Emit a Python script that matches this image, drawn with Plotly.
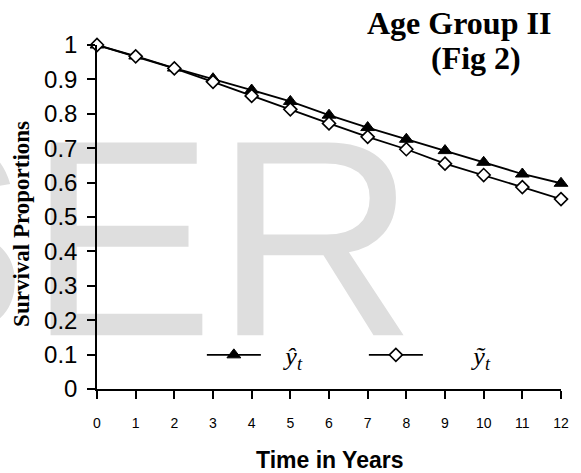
import plotly.graph_objects as go

years = list(range(13))
tick_labels = [str(t) for t in years]
y_hat = [1.000, 0.968, 0.933, 0.902, 0.869, 0.836, 0.796, 0.760, 0.726, 0.693, 0.659, 0.625, 0.598]
y_tilde = [1.000, 0.967, 0.932, 0.893, 0.852, 0.813, 0.772, 0.733, 0.697, 0.655, 0.622, 0.587, 0.552]
y_ticks = [round(0.1 * i, 1) for i in range(11)]
y_tick_labels = ["0", "0.1", "0.2", "0.3", "0.4", "0.5", "0.6", "0.7", "0.8", "0.9", "1"]

NB = "\u00a0"

fig = go.Figure()

# watermark (drawn first so it sits beneath the data)
fig.add_trace(go.Scatter(
    x=[0.82], y=[0.36], mode="text", text=["SER"],
    textfont=dict(family="Liberation Sans, Arial", size=280, color="#dedede"),
    textposition="middle center", showlegend=False, hoverinfo="skip", cliponaxis=False,
))

fig.add_trace(go.Scatter(
    x=years, y=y_hat, mode="lines+markers",
    name=NB * 3 + "<i>ŷ</i><sub><i>t</i></sub>",
    line=dict(color="black", width=1.8),
    marker=dict(symbol="triangle-up", size=12, color="black", line=dict(color="black", width=1)),
    cliponaxis=False,
))
fig.add_trace(go.Scatter(
    x=years, y=y_tilde, mode="lines+markers",
    name=NB * 7 + "<i>ỹ</i><sub><i>t</i></sub>",
    line=dict(color="black", width=1.8),
    marker=dict(symbol="diamond", size=10, color="white", line=dict(color="black", width=1.6)),
    cliponaxis=False,
))

fig.update_layout(
    width=581, height=473,
    margin=dict(l=97, r=15, t=45, b=84, pad=0),
    paper_bgcolor="white", plot_bgcolor="rgba(0,0,0,0)",
    font=dict(family="Liberation Sans, Arial", color="black"),
    showlegend=True,
    legend=dict(
        orientation="h", x=0.226, y=0.099, xanchor="left", yanchor="middle",
        bgcolor="rgba(0,0,0,0)", itemwidth=54, entrywidth=93,
        font=dict(family="Liberation Serif, Times New Roman", size=26, color="black"),
        itemclick=False, itemdoubleclick=False,
    ),
    xaxis=dict(
        range=[0, 12], tickmode="array", tickvals=years, ticktext=tick_labels,
        showline=True, linecolor="black", linewidth=1.5,
        ticks="outside", ticklen=8, tickwidth=1.5, tickcolor="black",
        tickfont=dict(size=14, family="Liberation Sans, Arial"),
        showgrid=False, zeroline=False, ticklabelstandoff=12,
    ),
    yaxis=dict(
        range=[0, 1], tickmode="array", tickvals=y_ticks, ticktext=y_tick_labels,
        showline=True, linecolor="black", linewidth=1.5,
        ticks="outside", ticklen=8, tickwidth=1.5, tickcolor="black",
        tickfont=dict(size=24, family="Liberation Sans, Arial"),
        showgrid=False, zeroline=False, ticklabelstandoff=5,
    ),
    annotations=[
        dict(text="<b>Age Group II</b>", xref="paper", yref="paper", x=1.0, y=1.0,
             xanchor="center", yanchor="bottom", xshift=-102, yshift=2, showarrow=False,
             font=dict(family="Liberation Serif, Times New Roman", size=32, color="black")),
        dict(text="<b>(Fig 2)</b>", xref="paper", yref="paper", x=1.0, y=1.0,
             xanchor="center", yanchor="bottom", xshift=-85, yshift=-33, showarrow=False,
             font=dict(family="Liberation Serif, Times New Roman", size=32, color="black")),
        dict(text="<b>Time in Years</b>", xref="paper", yref="paper", x=0.5, y=0,
             xanchor="center", yanchor="top", yshift=-56, showarrow=False,
             font=dict(family="Liberation Sans, Arial", size=23, color="black")),
        dict(text="<b>Survival Proportions</b>", xref="paper", yref="paper", x=0, y=0.48,
             xanchor="center", yanchor="middle", xshift=-75, textangle=-90, showarrow=False,
             font=dict(family="Liberation Serif, Times New Roman", size=23, color="black")),
    ],
)

fig.write_html("out.html")
